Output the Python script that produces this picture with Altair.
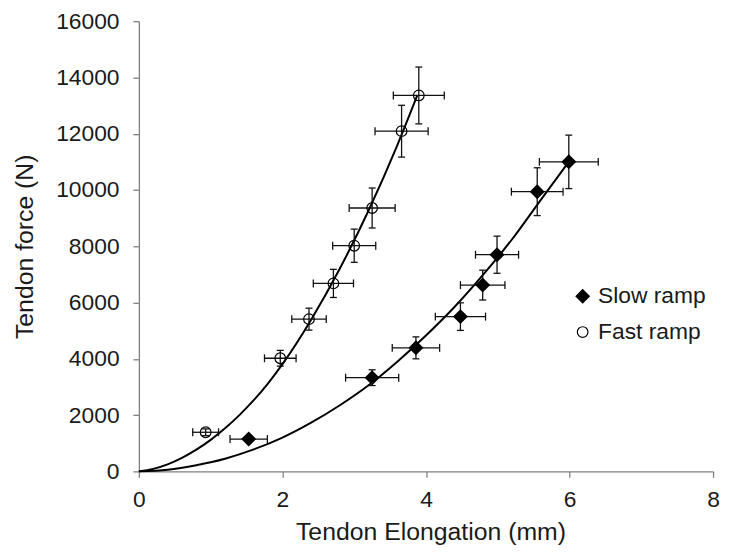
import altair as alt
import pandas as pd

series_names = ["Slow ramp", "Fast ramp"]

# measured points (mean +/- SD)
slow_x = [1.53, 3.25, 3.86, 4.48, 4.79, 4.99, 5.55, 5.99]
slow_y = [1150, 3330, 4390, 5500, 6620, 7700, 9940, 11000]
slow_xerr = [0.26, 0.37, 0.33, 0.35, 0.31, 0.30, 0.36, 0.41]
slow_yerr = [100, 280, 390, 490, 530, 660, 850, 950]

fast_x = [0.93, 1.97, 2.37, 2.71, 3.00, 3.25, 3.66, 3.90]
fast_y = [1390, 4020, 5410, 6680, 8020, 9360, 12090, 13360]
fast_xerr = [0.18, 0.22, 0.24, 0.28, 0.30, 0.32, 0.37, 0.355]
fast_yerr = [120, 280, 390, 500, 590, 710, 920, 1010]

# fitted curves
slow_curve_x = [0, 0.4, 0.8, 1.2, 1.6, 2.0, 2.4, 2.8, 3.2, 3.6, 4.0, 4.4, 4.8, 5.2, 5.6, 5.99]
slow_curve_y = [0, 60, 220, 450, 780, 1200, 1730, 2350, 3060, 3900, 4830, 5850, 7000, 8250, 9650, 11000]
fast_curve_x = [0, 0.2, 0.4, 0.6, 0.8, 1.0, 1.2, 1.4, 1.6, 1.8, 2.0, 2.4, 2.8, 3.2, 3.6, 3.88]
fast_curve_y = [0, 90, 250, 480, 770, 1120, 1530, 2000, 2530, 3130, 3810, 5390, 7210, 9270, 11590, 13370]

x_ticks = [0, 2, 4, 6, 8]
y_ticks = [0, 2000, 4000, 6000, 8000, 10000, 12000, 14000, 16000]

rows = []
for s, xs, ys, xe, ye in [(series_names[0], slow_x, slow_y, slow_xerr, slow_yerr),
                          (series_names[1], fast_x, fast_y, fast_xerr, fast_yerr)]:
    for a, b, c, d in zip(xs, ys, xe, ye):
        rows.append({"series": s, "x": a, "y": b, "xlo": a - c, "xhi": a + c,
                     "ylo": b - d, "yhi": b + d})
pts = pd.DataFrame(rows)

crow = []
for s, xs, ys in [(series_names[0], slow_curve_x, slow_curve_y),
                  (series_names[1], fast_curve_x, fast_curve_y)]:
    for a, b in zip(xs, ys):
        crow.append({"series": s, "x": a, "y": b})
curves = pd.DataFrame(crow)

FONT = "Liberation Sans"
XT = "Tendon Elongation (mm)"
YT = "Tendon force (N)"
xscale = alt.Scale(domain=[0, 8], nice=False, zero=True)
yscale = alt.Scale(domain=[0, 16000], nice=False)
xaxis = alt.Axis(values=x_ticks, labelPadding=11, titleX=294, titleY=69,
                 titleBaseline="alphabetic", labelFlush=False, labelOverlap=False)
yaxis = alt.Axis(values=y_ticks, format="d", labelPadding=14, titleX=-107, titleY=227,
                 titleBaseline="alphabetic", labelFlush=False, labelOverlap=False)


def X(f):
    return alt.X(f, type="quantitative", scale=xscale, axis=xaxis, title=XT)


def Y(f):
    return alt.Y(f, type="quantitative", scale=yscale, axis=yaxis, title=YT)


line = alt.Chart(curves).mark_line(color="black", strokeWidth=2, interpolate="monotone").encode(
    x=X("x"), y=Y("y"), detail="series:N")

ebc = "#111111"
vbar = alt.Chart(pts).mark_rule(color=ebc, strokeWidth=1.3).encode(
    x=X("x"), y=Y("ylo"), y2="yhi")
hbar = alt.Chart(pts).mark_rule(color=ebc, strokeWidth=1.3).encode(
    y=Y("y"), x=X("xlo"), x2="xhi")
vcap = alt.Chart(pts).transform_fold(["ylo", "yhi"], as_=["k", "v"]).mark_tick(
    orient="horizontal", size=7, thickness=1.3, color=ebc, opacity=1).encode(
    x=X("x"), y=Y("v"))
hcap = alt.Chart(pts).transform_fold(["xlo", "xhi"], as_=["k", "v"]).mark_tick(
    orient="vertical", size=8, thickness=1.3, color=ebc, opacity=1).encode(
    x=X("v"), y=Y("y"))

legend = alt.Legend(orient="none", legendX=436, legendY=266, title=None,
                    labelFontSize=23, labelFont=FONT, labelColor="#1a1a1a",
                    labelOffset=4, rowPadding=12, padding=0,
                    symbolStrokeColor="black", symbolStrokeWidth=1.2)

points = alt.Chart(pts).mark_point(filled=False, opacity=1, strokeWidth=1.2).encode(
    x=X("x"), y=Y("y"),
    shape=alt.Shape("series:N", scale=alt.Scale(domain=series_names, range=["diamond", "circle"]), legend=legend),
    fill=alt.Fill("series:N", scale=alt.Scale(domain=series_names, range=["black", "transparent"]), legend=legend),
    stroke=alt.Stroke("series:N", scale=alt.Scale(domain=series_names, range=["black", "black"]), legend=legend),
    size=alt.Size("series:N", scale=alt.Scale(domain=series_names, range=[180, 115]), legend=legend),
)

chart = alt.layer(line, vbar, hbar, vcap, hcap, points).properties(
    width=579, height=454,
    autosize=alt.AutoSizeParams(type="none"),
    padding={"left": 132, "top": 11, "right": 8, "bottom": 77},
    background="white",
).configure_view(stroke=None).configure_axis(
    labelFont=FONT, titleFont=FONT, labelFontSize=23, titleFontSize=25,
    labelColor="#1a1a1a", titleColor="#1a1a1a", titleFontWeight="normal",
    domainColor="#808080", tickColor="#808080", domainWidth=1.3, tickWidth=1.3,
    tickSize=6, grid=False,
)

chart.save("out.html", embed_options={"renderer": "svg", "actions": False})
